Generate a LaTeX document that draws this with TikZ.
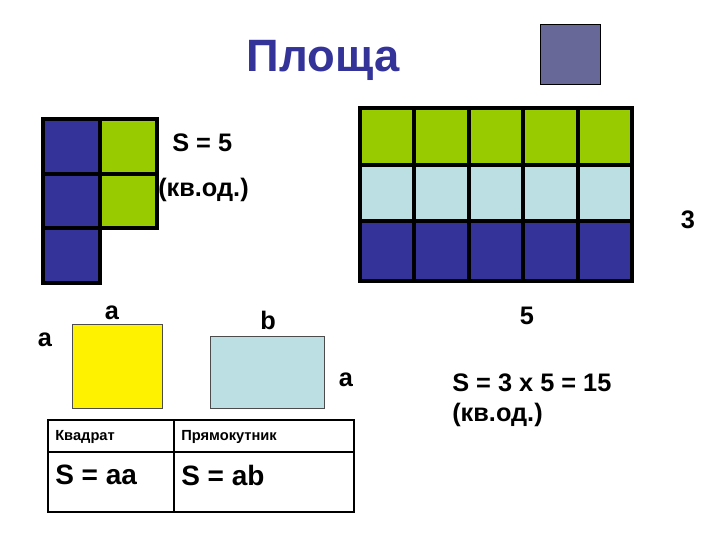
\documentclass[tikz,border=0pt]{standalone}
\usepackage{fontspec}
\setmainfont{Liberation Sans}
\definecolor{dblue}{HTML}{333399}
\definecolor{lgreen}{HTML}{99CC00}
\definecolor{lcyan}{HTML}{BBDFE3}
\definecolor{slate}{HTML}{686898}
\begin{document}
\begin{tikzpicture}[x=0.75pt,y=-0.75pt,
  cellb/.style={draw=black,line width=3pt,fill=dblue},
  cellg/.style={draw=black,line width=3pt,fill=lgreen},
  cellc/.style={draw=black,line width=3pt,fill=lcyan},
  lbl/.style={font=\bfseries\fontsize{19}{22}\selectfont,inner sep=0pt},
  sm/.style={font=\bfseries\fontsize{11}{13}\selectfont,anchor=west,inner sep=0pt},
  big/.style={font=\bfseries\fontsize{20}{24}\selectfont,anchor=west,inner sep=0pt}]
\useasboundingbox[fill=white] (0,0) rectangle (720,540);
\node[font=\bfseries\fontsize{34}{40}\selectfont,text=dblue] (title) at (323,60) {Площа};
\draw[fill=slate,draw=black] (540,24) rectangle (600,84);
% left grid
\foreach \r in {0,1,2} \draw[cellb] (43,119+54.5*\r) rectangle (100,173.5+54.5*\r);
\foreach \r in {0,1} \draw[cellg] (100,119+54.5*\r) rectangle (157,173.5+54.5*\r);
\node[lbl,anchor=west] (s5) at (172,143) {S = 5};
\node[lbl,anchor=west] (kv1) at (158,190) {(кв.од.)};
% right grid
\foreach \c in {0,...,4}{
  \draw[cellg] (360+54.4*\c,108) rectangle (414.4+54.4*\c,165);
  \draw[cellc] (360+54.4*\c,165) rectangle (414.4+54.4*\c,221);
  \draw[cellb] (360+54.4*\c,221) rectangle (414.4+54.4*\c,281);
}
\node[lbl] (three) at (688,220) {3};
\node[lbl] (five) at (527,316) {5};
% shapes
\draw[fill=yellow,draw=black!70] (72,324) rectangle (162,408);
\draw[fill=lcyan,draw=black!70] (210,336) rectangle (324,408);
\node[lbl] (a1) at (112,313) {a};
\node[lbl] (a2) at (45,340) {a};
\node[lbl] (b1) at (268,320) {b};
\node[lbl] (a3) at (346,380) {a};
% table
\draw[line width=1.2pt] (48,420) rectangle (354,512);
\draw[line width=0.8pt] (48,452) -- (354,452);
\draw[line width=0.8pt] (174,420) -- (174,512);
\node[sm] (kv) at (55,437) {Квадрат};
\node[sm] (pr) at (181,437) {Прямокутник};
\node[font=\bfseries\fontsize{21}{24}\selectfont,anchor=west,inner sep=0pt] (saa) at (55,475) {S = aa};
\node[font=\bfseries\fontsize{21}{24}\selectfont,anchor=west,inner sep=0pt] (sab) at (181,475) {S = ab};
\node[lbl,anchor=west] (s15) at (452,383) {S = 3 x 5 = 15};
\node[lbl,anchor=west] (kv2) at (452,415) {(кв.од.)};
\end{tikzpicture}
\end{document}
